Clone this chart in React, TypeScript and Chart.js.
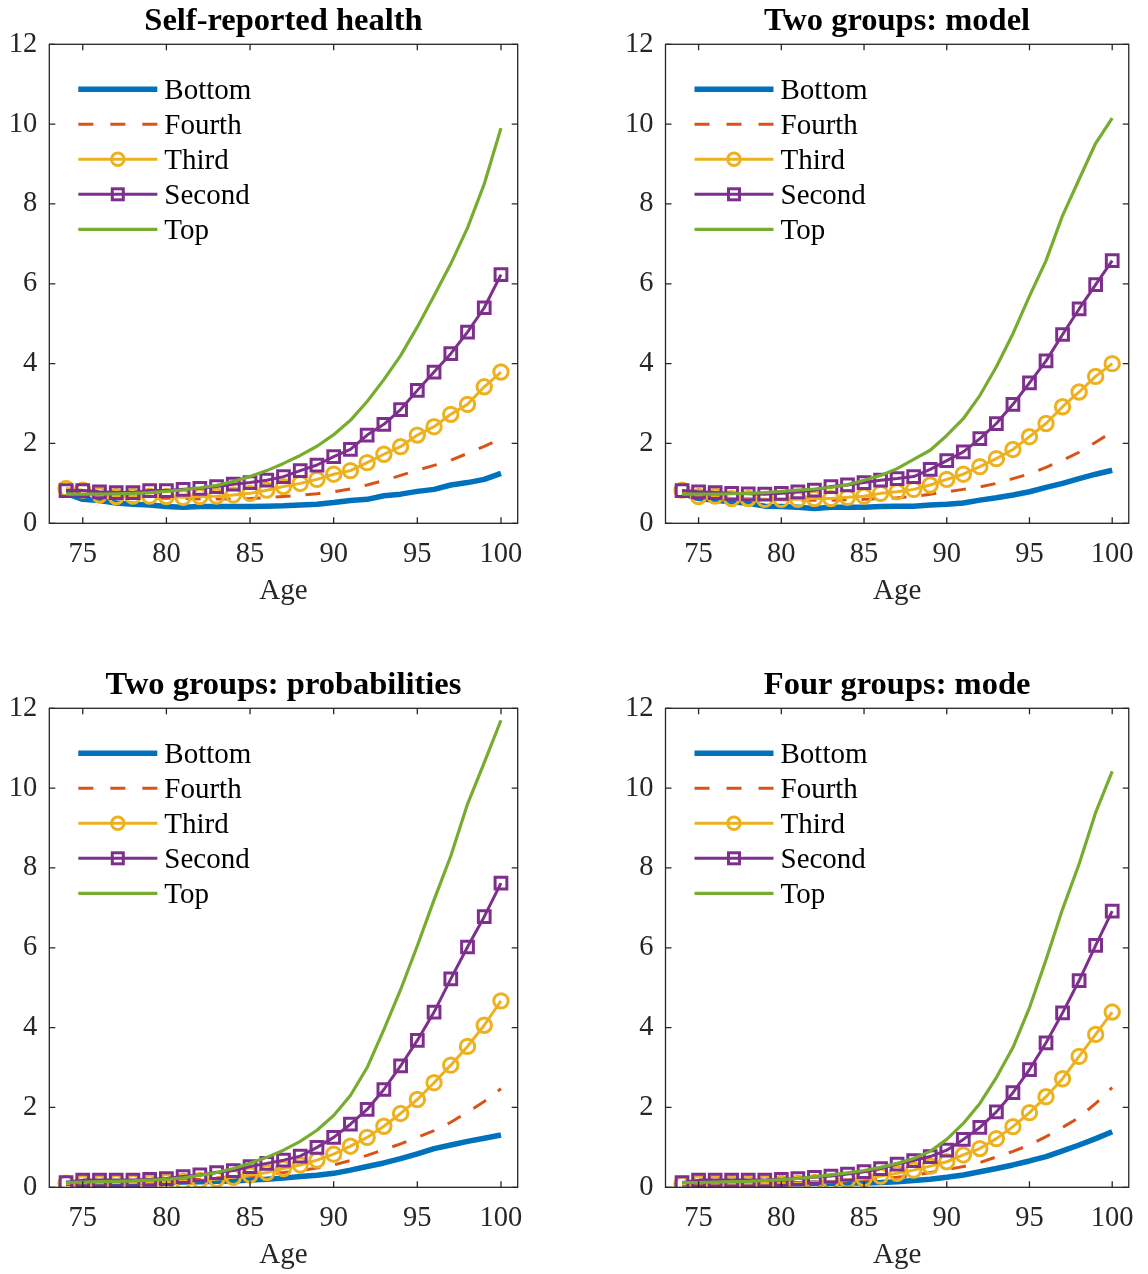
import React, { useEffect, useRef } from "react";
import { Chart, registerables } from "chart.js";

Chart.register(...registerables);

// ---------------- data ----------------
const ages = [74, 75, 76, 77, 78, 79, 80, 81, 82, 83, 84, 85, 86, 87, 88, 89, 90, 91, 92, 93, 94, 95, 96, 97, 98, 99, 100];
const xTicks = [75, 80, 85, 90, 95, 100];
const yTicks = [0, 2, 4, 6, 8, 10, 12];
const groupNames = ["Bottom", "Fourth", "Third", "Second", "Top"];
const panelTitles = ["Self-reported health", "Two groups: model", "Two groups: probabilities", "Four groups: mode"];
const xLabel = "Age";

// Panel 1: Self-reported health
const srhBottom = [0.75, 0.6, 0.57, 0.51, 0.48, 0.46, 0.42, 0.4, 0.42, 0.42, 0.42, 0.42, 0.43, 0.44, 0.46, 0.48, 0.52, 0.57, 0.6, 0.69, 0.73, 0.8, 0.85, 0.96, 1.02, 1.1, 1.25];
const srhFourth = [0.82, 0.78, 0.72, 0.68, 0.66, 0.64, 0.63, 0.62, 0.61, 0.61, 0.61, 0.62, 0.64, 0.67, 0.7, 0.74, 0.79, 0.86, 0.96, 1.07, 1.2, 1.33, 1.45, 1.58, 1.75, 1.93, 2.12];
const srhThird = [0.875, 0.83, 0.71, 0.67, 0.68, 0.68, 0.67, 0.65, 0.67, 0.68, 0.71, 0.75, 0.83, 0.92, 1.0, 1.1, 1.23, 1.32, 1.52, 1.73, 1.92, 2.21, 2.42, 2.73, 2.98, 3.42, 3.79];
const srhSecond = [0.82, 0.82, 0.79, 0.77, 0.77, 0.82, 0.82, 0.85, 0.875, 0.92, 0.98, 1.02, 1.08, 1.17, 1.32, 1.46, 1.67, 1.85, 2.21, 2.48, 2.85, 3.33, 3.79, 4.25, 4.79, 5.4, 6.23];
const srhTop = [0.73, 0.73, 0.73, 0.74, 0.75, 0.77, 0.8, 0.84, 0.89, 0.95, 1.05, 1.17, 1.32, 1.5, 1.7, 1.93, 2.22, 2.58, 3.05, 3.6, 4.2, 4.92, 5.7, 6.5, 7.4, 8.5, 9.9];

// Panel 2: Two groups: model
const modelBottom = [0.75, 0.62, 0.58, 0.54, 0.5, 0.43, 0.42, 0.4, 0.37, 0.4, 0.4, 0.4, 0.42, 0.43, 0.43, 0.46, 0.48, 0.51, 0.58, 0.64, 0.71, 0.79, 0.9, 1.0, 1.12, 1.23, 1.33];
const modelFourth = [0.8, 0.72, 0.68, 0.64, 0.62, 0.6, 0.59, 0.58, 0.58, 0.58, 0.59, 0.6, 0.62, 0.64, 0.67, 0.73, 0.79, 0.85, 0.91, 1.0, 1.12, 1.24, 1.4, 1.58, 1.78, 2.03, 2.29];
const modelThird = [0.83, 0.67, 0.68, 0.62, 0.62, 0.6, 0.6, 0.6, 0.62, 0.62, 0.65, 0.68, 0.75, 0.79, 0.85, 0.96, 1.1, 1.23, 1.42, 1.62, 1.85, 2.17, 2.5, 2.92, 3.29, 3.68, 4.0];
const modelSecond = [0.82, 0.79, 0.77, 0.75, 0.74, 0.73, 0.75, 0.79, 0.83, 0.92, 0.96, 1.02, 1.08, 1.12, 1.17, 1.35, 1.57, 1.79, 2.12, 2.5, 2.98, 3.52, 4.07, 4.73, 5.37, 5.98, 6.58];
const modelTop = [0.73, 0.73, 0.73, 0.74, 0.75, 0.77, 0.8, 0.83, 0.86, 0.9, 0.97, 1.08, 1.2, 1.37, 1.6, 1.83, 2.2, 2.62, 3.2, 3.92, 4.75, 5.69, 6.58, 7.71, 8.62, 9.52, 10.15];

// Panel 3: Two groups: probabilities
const probBottom = [0.1, 0.1, 0.1, 0.11, 0.11, 0.12, 0.12, 0.13, 0.14, 0.15, 0.16, 0.18, 0.2, 0.23, 0.27, 0.3, 0.35, 0.43, 0.52, 0.61, 0.72, 0.84, 0.97, 1.06, 1.15, 1.23, 1.31];
const probFourth = [0.1, 0.11, 0.12, 0.13, 0.14, 0.15, 0.16, 0.18, 0.2, 0.23, 0.26, 0.29, 0.33, 0.37, 0.42, 0.48, 0.56, 0.67, 0.8, 0.94, 1.09, 1.25, 1.42, 1.63, 1.88, 2.15, 2.47];
const probThird = [0.1, 0.11, 0.11, 0.12, 0.12, 0.13, 0.14, 0.15, 0.17, 0.2, 0.25, 0.31, 0.37, 0.47, 0.56, 0.68, 0.83, 1.03, 1.25, 1.53, 1.85, 2.2, 2.62, 3.06, 3.53, 4.06, 4.67];
const probSecond = [0.12, 0.18, 0.18, 0.18, 0.18, 0.2, 0.22, 0.27, 0.31, 0.37, 0.42, 0.52, 0.6, 0.68, 0.78, 1.0, 1.25, 1.58, 1.95, 2.45, 3.04, 3.68, 4.39, 5.22, 6.02, 6.78, 7.62];
const probTop = [0.12, 0.13, 0.14, 0.15, 0.16, 0.18, 0.2, 0.24, 0.3, 0.37, 0.47, 0.6, 0.75, 0.93, 1.15, 1.43, 1.8, 2.3, 3.0, 3.95, 4.95, 6.05, 7.2, 8.3, 9.6, 10.64, 11.7];

// Panel 4: Four groups: mode
const modeBottom = [0.08, 0.08, 0.08, 0.08, 0.08, 0.09, 0.09, 0.09, 0.1, 0.1, 0.11, 0.11, 0.12, 0.14, 0.17, 0.2, 0.25, 0.31, 0.39, 0.47, 0.56, 0.66, 0.77, 0.91, 1.06, 1.22, 1.39];
const modeFourth = [0.09, 0.09, 0.1, 0.1, 0.1, 0.11, 0.11, 0.12, 0.13, 0.14, 0.16, 0.18, 0.21, 0.25, 0.3, 0.37, 0.44, 0.52, 0.62, 0.76, 0.9, 1.06, 1.27, 1.5, 1.75, 2.1, 2.5];
const modeThird = [0.08, 0.1, 0.09, 0.09, 0.09, 0.1, 0.1, 0.1, 0.12, 0.14, 0.18, 0.22, 0.28, 0.35, 0.43, 0.53, 0.64, 0.81, 0.97, 1.22, 1.52, 1.87, 2.27, 2.72, 3.28, 3.83, 4.39];
const modeSecond = [0.12, 0.18, 0.18, 0.18, 0.18, 0.18, 0.2, 0.22, 0.25, 0.28, 0.33, 0.39, 0.47, 0.58, 0.67, 0.77, 0.93, 1.2, 1.5, 1.89, 2.37, 2.95, 3.62, 4.37, 5.18, 6.06, 6.92];
const modeTop = [0.12, 0.12, 0.13, 0.14, 0.15, 0.17, 0.19, 0.22, 0.26, 0.31, 0.36, 0.42, 0.5, 0.6, 0.72, 0.9, 1.2, 1.6, 2.1, 2.75, 3.5, 4.5, 5.7, 6.97, 8.1, 9.39, 10.42];

const panelSeries = [
  [srhBottom, srhFourth, srhThird, srhSecond, srhTop],
  [modelBottom, modelFourth, modelThird, modelSecond, modelTop],
  [probBottom, probFourth, probThird, probSecond, probTop],
  [modeBottom, modeFourth, modeThird, modeSecond, modeTop],
];

// ---------------- styles / layout ----------------
const FONT = "'Liberation Serif', 'Times New Roman', Times, serif";
const AXIS_COLOR = "#262626";
const TICK_LEN = 6;

type SeriesStyle = { color: string; width: number; dash: number[]; point: string | null; radius: number };
const seriesStyles: SeriesStyle[] = [
  { color: "#0072BD", width: 5.5, dash: [], point: null, radius: 0 },
  { color: "#D95319", width: 3, dash: [15, 15], point: null, radius: 0 },
  { color: "#EDB120", width: 3, dash: [], point: "circle", radius: 7.2 },
  { color: "#7E2F8E", width: 3, dash: [], point: "rect", radius: 8.3 },
  { color: "#77AC30", width: 3.2, dash: [], point: null, radius: 0 },
];

const CANVAS_W = 574;
const CANVAS_H = 637;
const colLeft = [49.3, 665.5];
const colRight = [517.7, 1136.2];
const rowBottom = [523.3, 1187.3];
const PLOT_H = 479.0;
const X_AXIS_H = 85;

function Panel({ index }: { index: number }) {
  const ref = useRef<HTMLCanvasElement | null>(null);
  const col = index % 2;
  const row = Math.floor(index / 2);
  const cx = col * CANVAS_W;
  const cy = row * CANVAS_H;

  useEffect(() => {
    if (!ref.current) return;
    const L = colLeft[col];
    const R = colRight[col];
    const B = rowBottom[row];
    const T = B - PLOT_H;

    const datasets = groupNames.map((name, i) => {
      const st = seriesStyles[i];
      const vals = panelSeries[index][i];
      return {
        label: name,
        data: ages.map((a, k) => ({ x: a, y: vals[k] })),
        borderColor: st.color,
        backgroundColor: st.color,
        borderWidth: st.width,
        borderDash: st.dash,
        borderCapStyle: "butt" as const,
        borderJoinStyle: "round" as const,
        pointStyle: (st.point || "circle") as any,
        pointRadius: st.radius,
        pointHoverRadius: st.radius,
        pointBorderWidth: 3,
        pointBorderColor: st.color,
        pointBackgroundColor: "rgba(0,0,0,0)",
        tension: 0,
        fill: false,
        order: groupNames.length - i,
      };
    });

    const axesPlugin = {
      id: "matlabAxes",
      afterDatasetsDraw(chart: any) {
        const { ctx, chartArea: a, scales } = chart;
        const xs = scales.x;
        const ys = scales.y;
        ctx.save();
        ctx.setLineDash([]);
        ctx.strokeStyle = AXIS_COLOR;
        ctx.lineWidth = 1.3;
        ctx.beginPath();
        xTicks.forEach((v) => {
          const px = xs.getPixelForValue(v);
          ctx.moveTo(px, a.bottom);
          ctx.lineTo(px, a.bottom - TICK_LEN);
          ctx.moveTo(px, a.top);
          ctx.lineTo(px, a.top + TICK_LEN);
        });
        yTicks.forEach((v) => {
          const py = ys.getPixelForValue(v);
          ctx.moveTo(a.left, py);
          ctx.lineTo(a.left + TICK_LEN, py);
          ctx.moveTo(a.right, py);
          ctx.lineTo(a.right - TICK_LEN, py);
        });
        ctx.stroke();
        ctx.strokeRect(a.left, a.top, a.right - a.left, a.bottom - a.top);
        ctx.restore();
      },
    };

    const decorPlugin = {
      id: "matlabDecor",
      afterDraw(chart: any) {
        const { ctx, chartArea: a } = chart;
        ctx.save();
        // title
        ctx.fillStyle = "#000";
        ctx.font = `bold 32.5px ${FONT}`;
        ctx.textAlign = "center";
        ctx.textBaseline = "alphabetic";
        ctx.fillText(panelTitles[index], (a.left + a.right) / 2, a.top - 14);
        // legend
        const x0 = a.left + 29;
        const x1 = a.left + 108;
        const xm = (x0 + x1) / 2;
        chart.data.datasets.forEach((ds: any, i: number) => {
          const st = seriesStyles[i];
          const y = a.top + 45 + i * 35;
          ctx.strokeStyle = st.color;
          ctx.lineWidth = st.width;
          ctx.setLineDash(st.dash.length ? [15, 17] : []);
          ctx.lineCap = "butt";
          ctx.beginPath();
          ctx.moveTo(x0, y);
          ctx.lineTo(x1, y);
          ctx.stroke();
          ctx.setLineDash([]);
          ctx.lineWidth = 3;
          if (st.point === "circle") {
            ctx.beginPath();
            ctx.arc(xm, y, 6.3, 0, Math.PI * 2);
            ctx.stroke();
          } else if (st.point === "rect") {
            ctx.strokeRect(xm - 5.5, y - 5.5, 11, 11);
          }
          ctx.fillStyle = "#000";
          ctx.font = `29px ${FONT}`;
          ctx.textAlign = "left";
          ctx.textBaseline = "middle";
          ctx.fillText(ds.label, a.left + 115, y + 2);
        });
        ctx.restore();
      },
    };

    const chart = new Chart(ref.current, {
      type: "line",
      data: { datasets },
      options: {
        animation: false,
        responsive: false,
        maintainAspectRatio: false,
        devicePixelRatio: 1,
        events: [],
        layout: {
          autoPadding: true,
          padding: {
            left: 0,
            top: T - cy,
            right: cx + CANVAS_W - R,
            bottom: cy + CANVAS_H - B - X_AXIS_H,
          },
        },
        plugins: {
          legend: { display: false },
          title: { display: false },
          tooltip: { enabled: false },
        },
        scales: {
          x: {
            type: "linear",
            min: 73,
            max: 101,
            grid: { display: false, drawTicks: false },
            border: { display: false },
            afterBuildTicks: (s: any) => {
              s.ticks = xTicks.map((v) => ({ value: v }));
            },
            afterFit: (s: any) => {
              s.height = X_AXIS_H;
            },
            ticks: {
              padding: 14,
              maxRotation: 0,
              autoSkip: false,
              color: AXIS_COLOR,
              font: { family: FONT, size: 28.5 },
              callback: (v: any) => String(v),
            },
            title: {
              display: true,
              text: xLabel,
              color: AXIS_COLOR,
              font: { family: FONT, size: 29 },
              padding: 0,
            },
          },
          y: {
            type: "linear",
            min: 0,
            max: 12,
            grid: { display: false, drawTicks: false },
            border: { display: false },
            afterBuildTicks: (s: any) => {
              s.ticks = yTicks.map((v) => ({ value: v }));
            },
            afterFit: (s: any) => {
              s.width = L - cx;
            },
            ticks: {
              padding: 12,
              autoSkip: false,
              color: AXIS_COLOR,
              font: { family: FONT, size: 28.5 },
              callback: (v: any) => String(v),
            },
          },
        },
      } as any,
      plugins: [axesPlugin, decorPlugin],
    });
    return () => chart.destroy();
  }, [index]);

  return (
    <canvas
      ref={ref}
      width={CANVAS_W}
      height={CANVAS_H}
      style={{ position: "absolute", left: cx, top: cy, width: CANVAS_W, height: CANVAS_H }}
    />
  );
}

export default function App() {
  return (
    <div style={{ position: "absolute", left: 0, top: 0, width: 1148, height: 1274, background: "#fff", overflow: "hidden" }}>
      {[0, 1, 2, 3].map((i) => (
        <Panel key={i} index={i} />
      ))}
    </div>
  );
}
